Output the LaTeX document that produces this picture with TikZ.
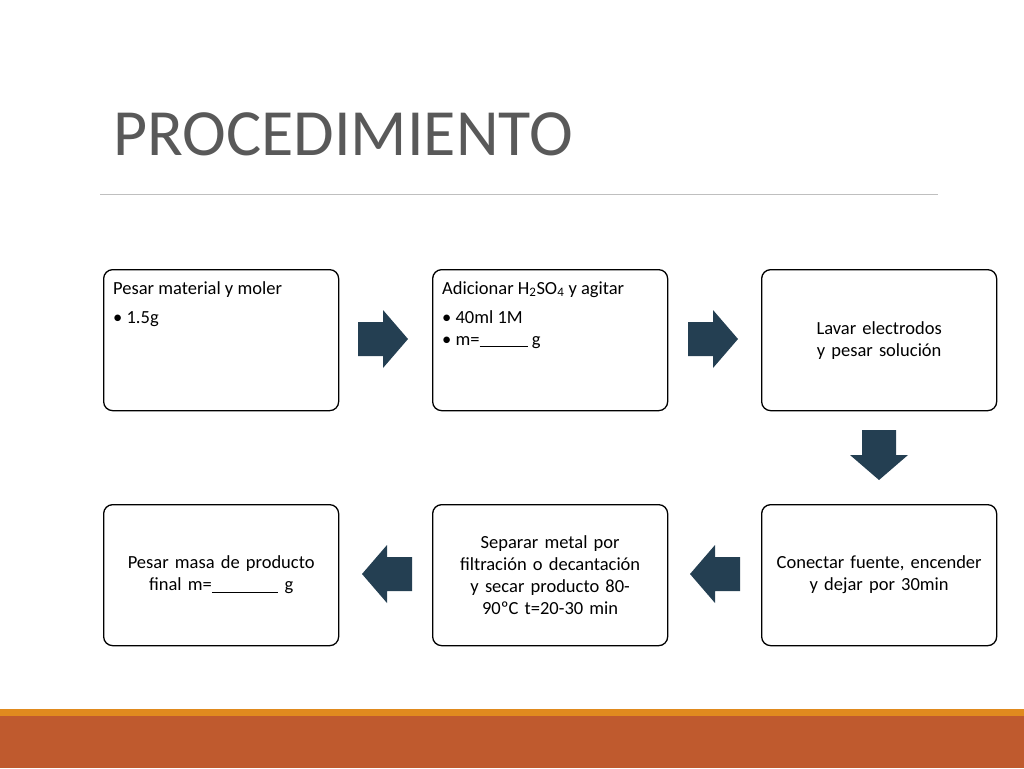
\documentclass[tikz,border=0pt]{standalone}
\usepackage{fontspec}
\setmainfont{Carlito}
\usetikzlibrary{positioning}
\definecolor{slate}{HTML}{243F52}
\definecolor{rust}{HTML}{BF5A2E}
\definecolor{amber}{HTML}{E08A1E}
\tikzset{
  stepbox/.style={draw=black, line width=1.3pt, rounded corners=9pt, minimum width=235pt, minimum height=141pt, font=\fontsize{18.5}{22}\selectfont, align=center, text width=218pt},
  listtext/.style={anchor=north west, font=\fontsize{18.5}{24}\selectfont, align=left, inner sep=0pt}
}
\newcommand{\rarrow}[2]{\fill[slate] (#1,#2+12) -- ++(25,0) -- ++(0,-12) -- ++(25,29) -- ++(-25,29) -- ++(0,-12) -- ++(-25,0) -- cycle;}
\newcommand{\larrow}[2]{\fill[slate] (#1+50,#2+12) -- ++(-25,0) -- ++(0,-12) -- ++(-25,29) -- ++(25,29) -- ++(0,-12) -- ++(25,0) -- cycle;}
\begin{document}
\hyphenpenalty=10000
\begin{tikzpicture}[x=1pt,y=-1pt]
  \useasboundingbox (0,0) rectangle (1024,768);
  % title
  \node[anchor=base west, text=black!65, font=\fontsize{66}{70}\selectfont, inner sep=0] (title) at (113,155) {PROCEDIMIENTO};
  \draw[black!25, line width=0.8pt] (100,194) -- (938,194);
  % row 1
  \node[stepbox, anchor=north west] (pesar) at (103,269) {};
  \node[listtext] (pesartxt) at (113,281) {Pesar material y moler\\[5pt]\textbullet\ 1.5g};
  \node[stepbox, anchor=north west] (adic) at (432,269) {};
  \node[listtext] (adictxt) at (442,281) {Adicionar H\textsubscript{2}SO\textsubscript{4} y agitar\\[5pt]\textbullet\ 40ml 1M\\[-2pt]\textbullet\ m=\underline{\hspace{2.6em}} g};
  \node[stepbox, anchor=north west] (lavar) at (761,269) {Lavar electrodos y pesar solución};
  % row 2
  \node[stepbox, anchor=north west] (masa) at (103,504) {Pesar masa de producto\\final m=\underline{\hspace{3.6em}} g};
  \node[stepbox, anchor=north west] (separar) at (432,504) {Separar metal por filtración o decantación y secar producto 80-90ºC t=20-30 min};
  \node[stepbox, anchor=north west] (conectar) at (761,504) {Conectar fuente, encender y dejar por 30min};
  % arrows
  \rarrow{358}{310}
  \rarrow{688}{310}
  \fill[slate] (862,430) -- ++(34,0) -- ++(0,25) -- ++(12,0) -- ++(-29,25) -- ++(-29,-25) -- ++(12,0) -- cycle;
  \larrow{362}{545}
  \larrow{690}{545}
  % bottom bar
  \fill[amber] (0,709) rectangle (1024,716);
  \fill[rust] (0,716) rectangle (1024,768);
\end{tikzpicture}
\end{document}
